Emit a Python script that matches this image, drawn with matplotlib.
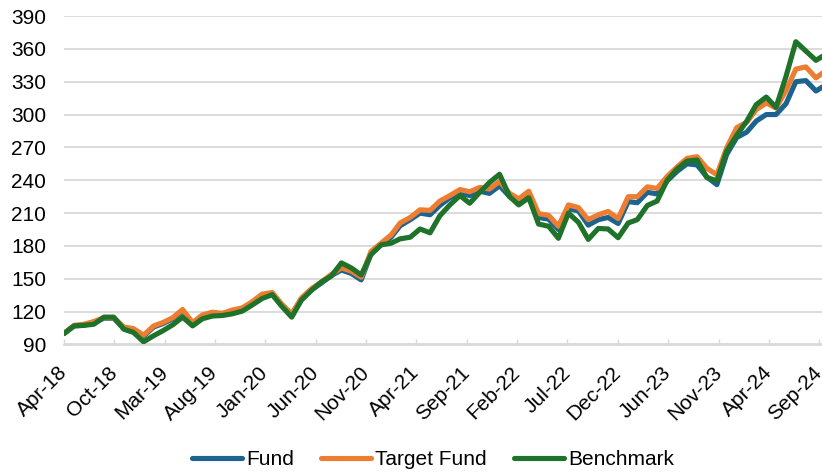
import matplotlib
matplotlib.use('Agg')
import matplotlib.pyplot as plt
import matplotlib.dates as mdates
import pandas as pd

plt.rcParams['font.family'] = ['Liberation Sans', 'DejaVu Sans']

# month-end dates, Apr-18 .. Sep-24
dates = pd.date_range('2018-04-30', '2024-09-30', freq='ME')

fund = [100, 107, 107.5, 110, 114, 114, 105, 103.5, 97.5, 106,
        109, 113.5, 121, 109, 116, 118.5, 117.5, 120.5, 122.5, 128,
        135, 136.5, 126, 117, 131.5, 140, 146, 153, 158, 155,
        149, 173, 181, 188, 198.5, 204, 210, 208.5, 217, 224,
        228.5, 226, 230, 228, 235, 225, 220.5, 226.5, 206, 204.5,
        195, 214, 212, 199, 204, 206, 200.5, 220.5, 219.5, 229,
        227.5, 239.5, 248, 255, 254, 243, 236, 263.5, 279, 284,
        294, 300, 300, 310, 330, 331, 321.5, 327]
target_fund = [100, 107.5, 108.5, 111, 114.5, 114.5, 106, 104.5, 98.5, 107,
               110, 114.5, 122, 110, 117, 119.5, 118.5, 121.5, 123.5, 129,
               136, 137.5, 127, 118, 132.5, 141, 147, 154, 160, 157,
               151.5, 175, 182.5, 190, 201, 206, 213, 212.5, 221, 226,
               231.5, 229.5, 233.5, 232, 239, 228, 223, 230, 209.5, 208,
               198, 217.5, 215, 204, 208.5, 211.5, 205, 225, 225, 234,
               232.5, 243.5, 252, 260, 261.5, 251, 245, 269.5, 288, 293,
               304.5, 310.5, 306, 322, 341.5, 343.5, 333.5, 340]
benchmark = [100, 107, 107.5, 108.5, 115, 115, 104, 101, 92.5, 98,
             102.5, 108, 115, 107, 113.5, 116, 116.5, 118, 120.5, 126,
             132, 135.5, 125, 115, 130.5, 139.5, 147, 152.5, 164.5, 160,
             153.5, 172, 181, 182.5, 186.5, 188, 195.5, 192, 207.5, 217.5,
             226, 219, 229, 238, 245.5, 225, 217.5, 224, 200, 198,
             187, 210, 201.5, 186, 196, 195.5, 187.5, 201, 204, 217,
             221, 240, 250, 257.5, 258.5, 242.5, 239.5, 266.5, 281, 294,
             309, 316, 306.5, 335, 366.5, 358, 349.5, 355]

tick_labels = ['Apr-18', 'Oct-18', 'Mar-19', 'Aug-19', 'Jan-20', 'Jun-20',
               'Nov-20', 'Apr-21', 'Sep-21', 'Feb-22', 'Jul-22', 'Dec-22',
               'Jun-23', 'Nov-23', 'Apr-24', 'Sep-24']
y_ticks = [90, 120, 150, 180, 210, 240, 270, 300, 330, 360, 390]

colors = ['#1C6390', '#ED7D31', '#1E7229']

fig = plt.figure(figsize=(8.22, 4.73), dpi=100)
ax = fig.add_axes([64 / 822, (473 - 344.5) / 473, (825.7 - 64) / 822, (344.5 - 16) / 473])

for vals, name, c in zip([fund, target_fund, benchmark], ['Fund', 'Target Fund', 'Benchmark'], colors):
    ax.plot(dates, vals, color=c, lw=3.7, label=name,
            solid_joinstyle='round', solid_capstyle='round')

# date axis, major unit 155 days (like the Excel original)
tick_dates = [dates[0] + pd.Timedelta(days=155 * k) for k in range(len(tick_labels))]
ax.set_xticks(mdates.date2num(tick_dates))
ax.set_xticklabels(tick_labels, rotation=45, ha='right', va='center',
                   rotation_mode='anchor')
ax.set_xlim(dates[0], dates[-1])

ax.set_ylim(90, 390)
ax.set_yticks(y_ticks)

ax.yaxis.grid(True, color='#d9d9d9', lw=1.3)
ax.set_axisbelow(True)
for s in ['left', 'right', 'top']:
    ax.spines[s].set_visible(False)
ax.spines['bottom'].set_color('#d9d9d9')
ax.spines['bottom'].set_linewidth(1.3)

ax.tick_params(axis='y', length=0, pad=13, labelsize=15)
ax.tick_params(axis='x', direction='in', length=4.5, width=1, color='#d9d9d9',
               labelsize=15, pad=18)

fig.legend(loc='center', bbox_to_anchor=(0.527, 0.028), ncol=3, frameon=False,
           fontsize=15, handlelength=2.4, handletextpad=0.2, columnspacing=1.3)

fig.savefig('out.png', dpi=100)
